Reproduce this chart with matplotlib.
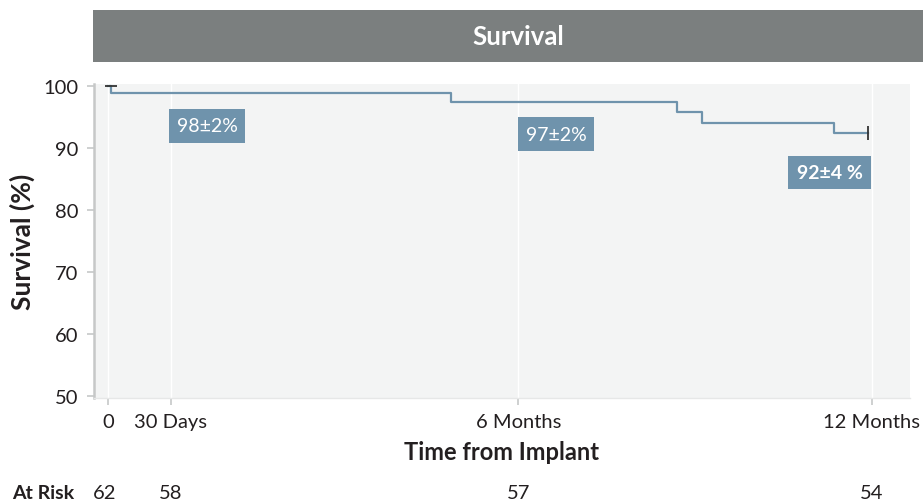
import matplotlib.pyplot as plt
from matplotlib.patches import Rectangle
import matplotlib.transforms as mtransforms

plt.rcParams['font.family'] = ['Lato', 'DejaVu Sans']

# Kaplan-Meier steps (x in days, y in %)
times = [0, 1.3, 164, 272, 284, 347, 363]
survival = [100, 98.9, 97.4, 95.8, 94.0, 92.4, 92.4]

tick_pos = [0, 30, 196, 365]
tick_labels = ['0', '30 Days', '6 Months', '12 Months']
at_risk = [62, 58, 57, 54]

# estimate boxes: (left, right, bottom, top, text, bold)
boxes = [
    (29.1, 65.5, 90.8, 96.3, '98±2%', False),
    (196, 232, 89.5, 95.0, '97±2%', False),
    (325, 364.5, 83.4, 88.7, '92±4 %', True),
]

blue = '#6f93ac'
grey = '#c6c8c8'
dark = '#231f20'

fig = plt.figure(figsize=(9.23, 5.02), dpi=100)
ax = fig.add_axes([94 / 923, 1 - 399 / 502, 816 / 923, 314 / 502])
ax.set_facecolor('#f3f4f4')

ax.step(times, survival, where='post', color=blue, lw=1.6, zorder=3)
ax.plot([1.5], [100], marker='_', ms=9, mew=1.3, color='#333333', zorder=4)
ax.plot([times[-1]], [survival[-1]], marker='|', ms=10, mew=1.3, color='#333333', zorder=4)

for x0, x1, y0, y1, txt, bold in boxes:
    ax.add_patch(Rectangle((x0, y0), x1 - x0, y1 - y0, facecolor=blue,
                           edgecolor='none', zorder=5))
    ax.text((x0 + x1) / 2, (y0 + y1) / 2, txt, color='white', fontsize=14,
            fontweight='bold' if bold else 'normal', ha='center', va='center',
            zorder=6)

ax.set_xlim(-6.7, 383.2)
ax.set_ylim(49.68, 100.32)
ax.set_xticks(tick_pos)
ax.set_xticklabels(tick_labels)
ax.set_yticks([50, 60, 70, 80, 90, 100])
ax.tick_params(axis='both', direction='out', length=5, width=1.2, color=grey,
               labelsize=14.5, labelcolor=dark, pad=6)
ax.xaxis.grid(True, color='white', lw=1.0)
ax.set_axisbelow(True)

for s in ['top', 'right']:
    ax.spines[s].set_visible(False)
ax.spines['left'].set_color(grey)
ax.spines['left'].set_linewidth(1.8)
ax.spines['bottom'].set_color('#e6e7e7')
ax.spines['bottom'].set_linewidth(1)

ax.set_xlabel('Time from Implant', fontsize=17, fontweight='bold', color=dark, labelpad=7)
ax.set_ylabel('Survival (%)', fontsize=19, fontweight='bold', color=dark, labelpad=6)

# title bar
fig.patches.append(Rectangle((93 / 923, 1 - 63 / 502), 830 / 923, 52 / 502,
                             transform=fig.transFigure, facecolor='#7b7f7f',
                             edgecolor='none'))
fig.text(518 / 923, 1 - 37 / 502, 'Survival', color='white', fontsize=18.5,
         fontweight='bold', ha='center', va='center')

# numbers at risk
trans = mtransforms.blended_transform_factory(ax.transData, fig.transFigure)
fig.text(12 / 923, 1 - 494 / 502, 'At Risk', fontsize=14, fontweight='bold',
         color=dark, ha='left', va='center')
for x, n in zip(tick_pos, at_risk):
    ax.text(x - (1.5 if x == 0 else 0), 1 - 494 / 502, str(n), transform=trans,
            fontsize=14.5, color=dark, ha='center', va='center', clip_on=False)

fig.savefig('out.png', dpi=100)
